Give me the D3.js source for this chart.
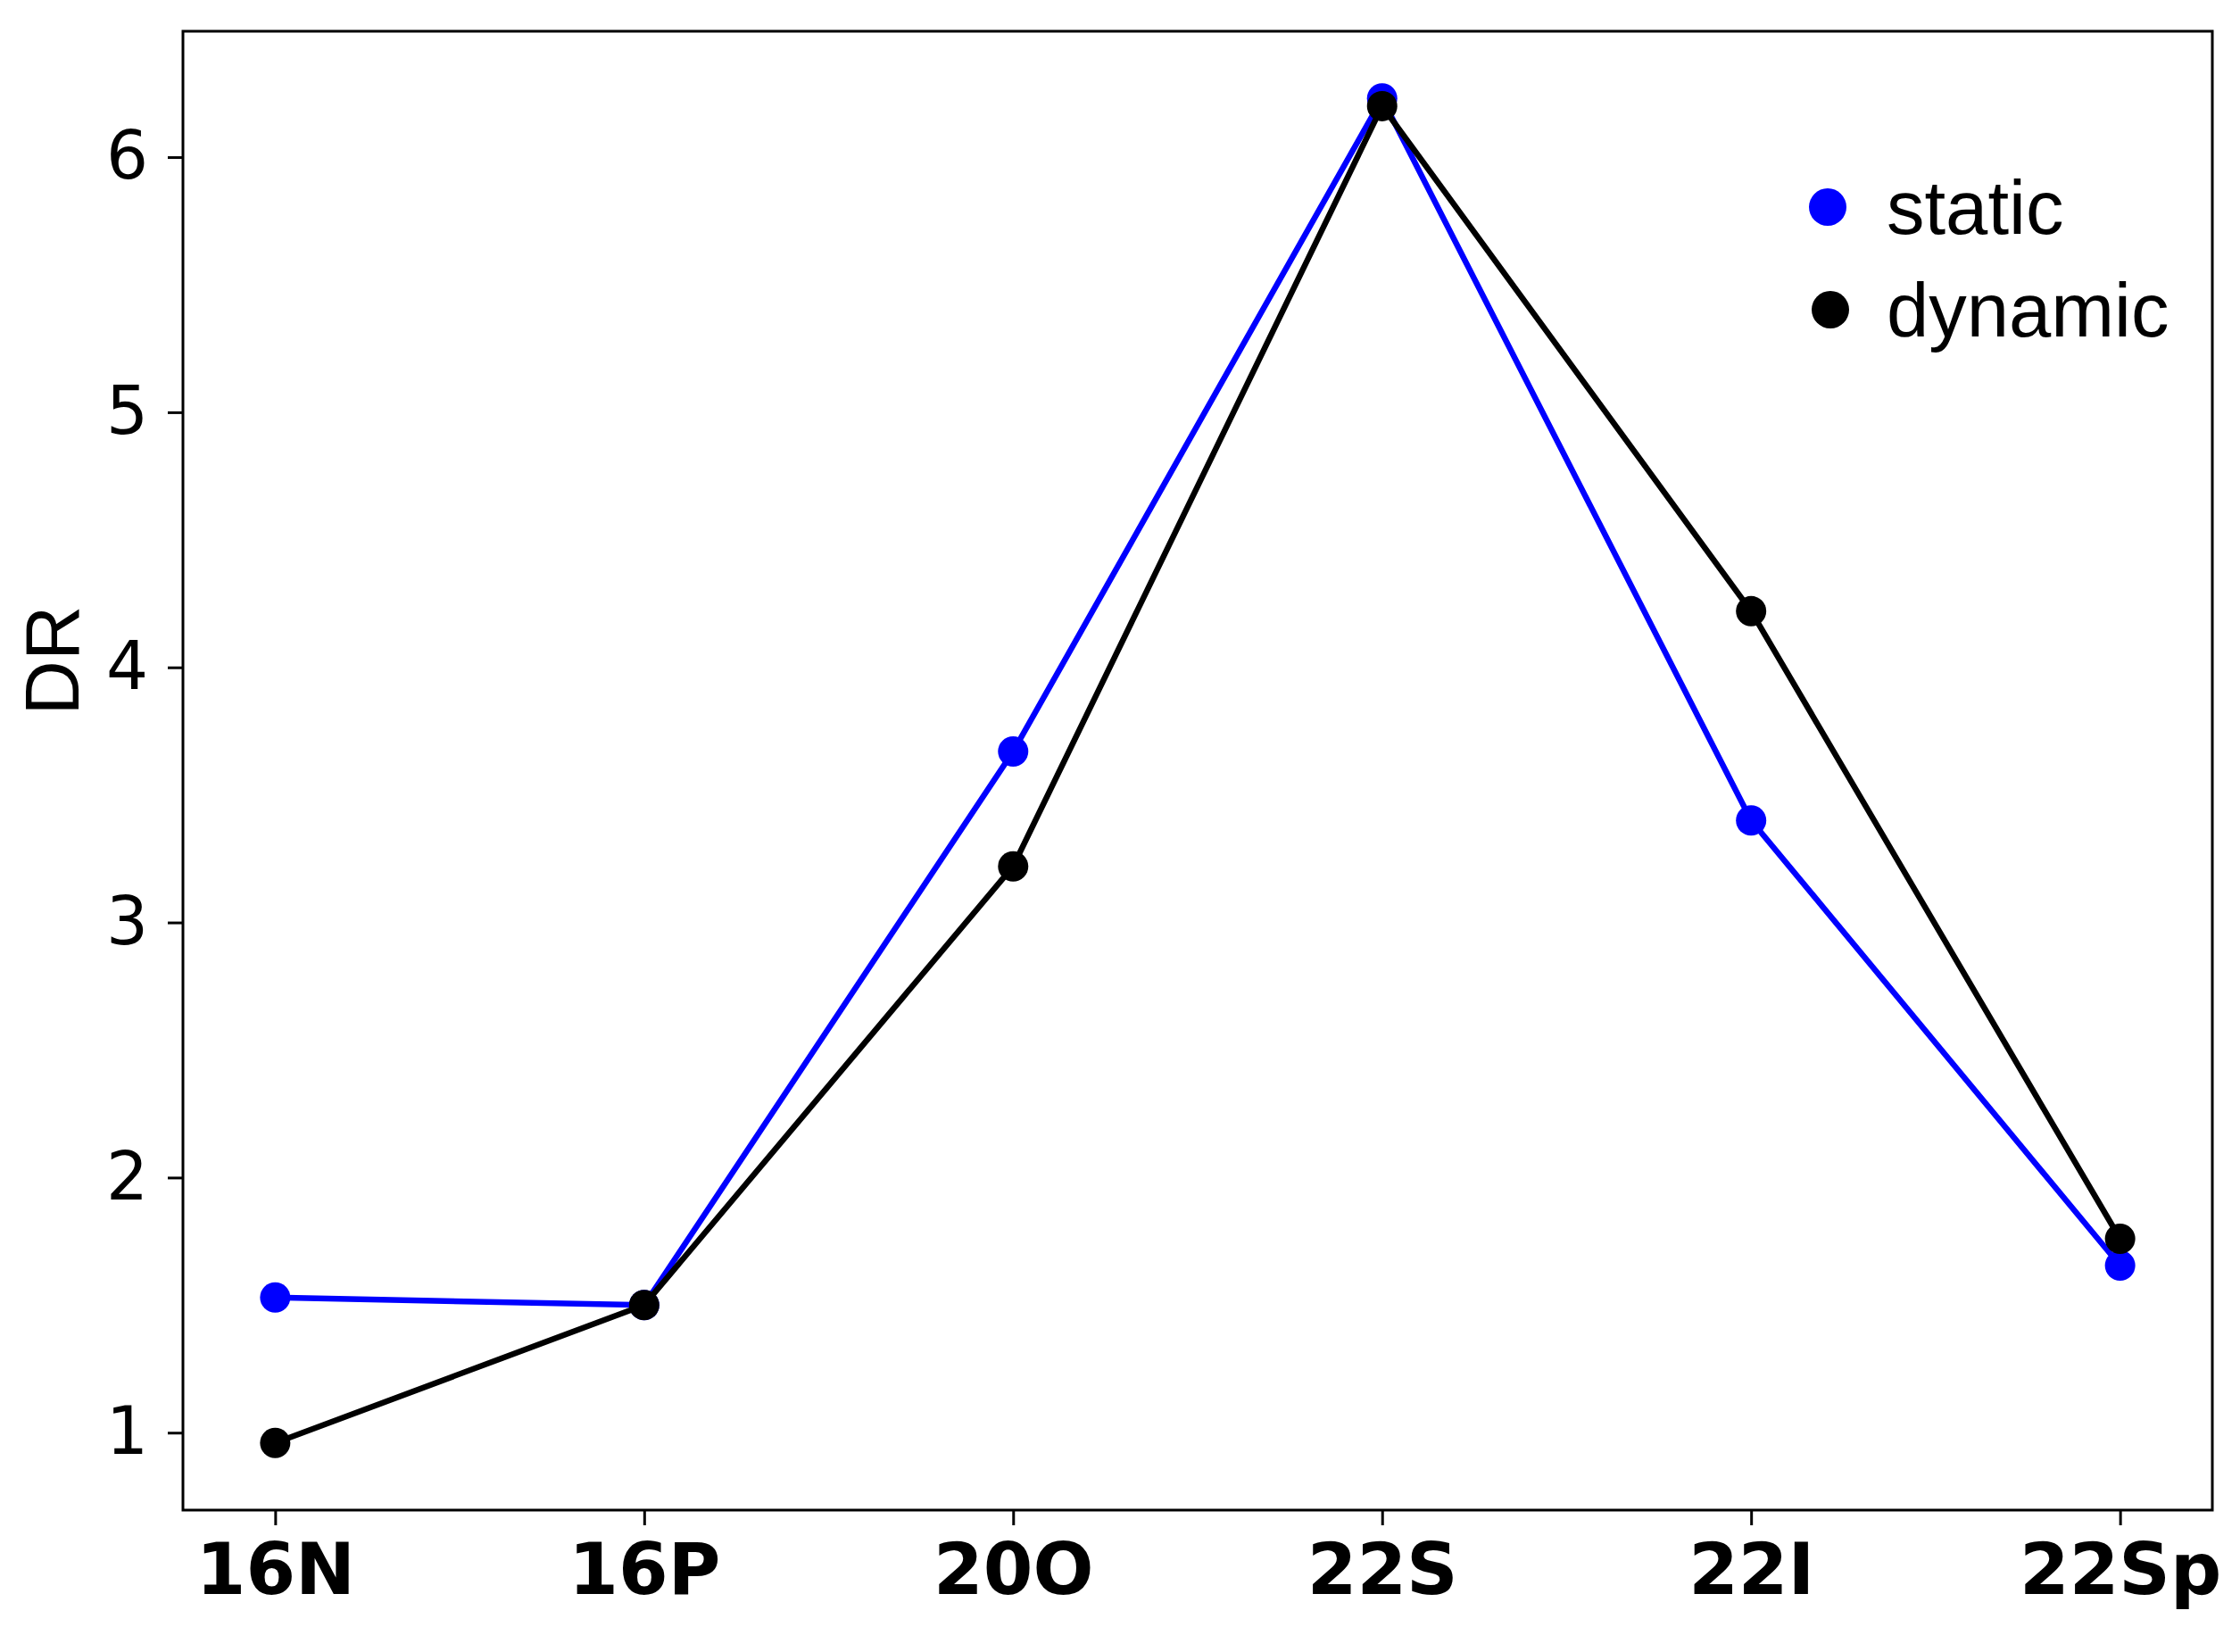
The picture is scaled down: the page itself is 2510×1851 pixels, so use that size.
<!DOCTYPE html>
<html lang="en">
<head>
<meta charset="utf-8">
<script src="https://cdn.jsdelivr.net/npm/d3@7"></script>
<style type="text/css">

body {
	margin: 0;
	background-color: #ffffff;
}

.axis path, .axis line {
	stroke: #000;
	stroke-width: 3px;
}

.axis text {
	fill: #000;
}

</style>
</head>
<body>
<script type="text/javascript">

// data
var categories = ["16N", "16P", "20O", "22S", "22I", "22Sp"];
var staticValues = [1.53, 1.50, 3.67, 6.23, 3.40, 1.655];
var dynamicValues = [0.96, 1.50, 3.22, 6.20, 4.22, 1.76];
var yTicks = [1, 2, 3, 4, 5, 6];
var seriesNames = ["static", "dynamic"];
var seriesColors = ["#0000ff", "#000000"];

var width = 2510;
var height = 1851;

// plot frame
var plotLeft = 205, plotRight = 2479, plotTop = 35, plotBottom = 1692;

var svg = d3.select("body")
	.append("svg")
	.attr("width", width)
	.attr("height", height);

svg.append("rect")
	.attr("width", width)
	.attr("height", height)
	.style("fill", "#fff");

var x = d3.scalePoint()
	.domain(categories)
	.range([plotLeft, plotRight])
	.padding(0.25);

// matplotlib-like 5% margin around the data
var allValues = staticValues.concat(dynamicValues);
var minVal = d3.min(allValues), maxVal = d3.max(allValues);
var pad = (maxVal - minVal) * 0.05;
var y = d3.scaleLinear()
	.domain([minVal - pad, maxVal + pad])
	.range([plotBottom, plotTop]);

// x axis
var xAxis = svg.append("g")
	.attr("class", "axis")
	.attr("transform", "translate(0," + plotBottom + ")")
	.call(d3.axisBottom(x).tickSize(17).tickSizeOuter(0).tickPadding(20));
xAxis.select(".domain").remove();
xAxis.selectAll("text")
	.style("font-family", "'DejaVu Sans', sans-serif")
	.style("font-weight", "bold")
	.style("font-size", "80px");

// y axis
var yAxis = svg.append("g")
	.attr("class", "axis")
	.attr("transform", "translate(" + plotLeft + ",0)")
	.call(d3.axisLeft(y).tickValues(yTicks).tickFormat(d3.format("d"))
		.tickSize(17).tickSizeOuter(0).tickPadding(22));
yAxis.select(".domain").remove();
yAxis.selectAll("text")
	.style("font-family", "'DejaVu Sans', sans-serif")
	.style("font-size", "74px");

// frame
svg.append("rect")
	.attr("x", plotLeft)
	.attr("y", plotTop)
	.attr("width", plotRight - plotLeft)
	.attr("height", plotBottom - plotTop)
	.style("fill", "none")
	.style("stroke", "#000")
	.style("stroke-width", 3);

// y label
svg.append("text")
	.attr("transform", "translate(88,740) rotate(-90)")
	.attr("text-anchor", "middle")
	.style("font-family", "'Liberation Sans', Arial, sans-serif")
	.style("font-size", "85px")
	.text("DR");

// series
var series = [staticValues, dynamicValues];
var line = d3.line()
	.x(function(d, i) { return x(categories[i]); })
	.y(function(d) { return y(d); });

series.forEach(function(values, s) {
	svg.append("path")
		.datum(values)
		.attr("d", line)
		.style("fill", "none")
		.style("stroke", seriesColors[s])
		.style("stroke-width", 6.5);

	svg.selectAll(".pt" + s)
		.data(values)
		.enter()
		.append("circle")
		.attr("class", "pt" + s)
		.attr("cx", function(d, i) { return x(categories[i]); })
		.attr("cy", function(d) { return y(d); })
		.attr("r", 17)
		.style("fill", seriesColors[s]);
});

// legend
var legend = svg.append("g")
	.attr("transform", "translate(2048,232)");

var items = legend.selectAll("g")
	.data(seriesNames)
	.enter()
	.append("g")
	.attr("transform", function(d, i) { return "translate(" + (i * 3) + "," + (i * 115) + ")"; });

items.append("circle")
	.attr("r", 21)
	.style("fill", function(d, i) { return seriesColors[i]; });

items.append("text")
	.attr("x", function(d, i) { return 66 - i * 3; })
	.attr("y", 30)
	.style("font-family", "'Liberation Sans', Arial, sans-serif")
	.style("font-size", "85px")
	.text(function(d) { return d; });

</script>
</body>
</html>
